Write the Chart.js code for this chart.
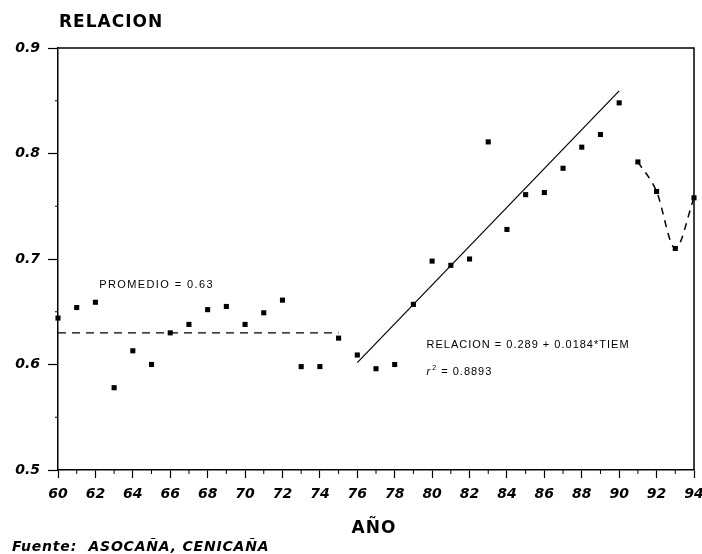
<!DOCTYPE html>
<html>
<head>
<meta charset="utf-8">
<title>RELACION</title>
<script src="https://cdn.jsdelivr.net/npm/chart.js@4.4.1/dist/chart.umd.min.js"></script>
<style>
  body { margin: 0; background: #fff; }
  canvas { display: block; }
</style>
</head>
<body>
<canvas id="myChart" width="702" height="554"></canvas>
<script>
// years (two digits) and the observed ratio for each one
var years = [60, 61, 62, 63, 64, 65, 66, 67, 68, 69, 70, 71, 72, 73, 74, 75, 76,
             77, 78, 79, 80, 81, 82, 83, 84, 85, 86, 87, 88, 89, 90, 91, 92, 93, 94];
var relacion = [0.644, 0.654, 0.659, 0.578, 0.613, 0.600, 0.630, 0.638, 0.652, 0.655,
                0.638, 0.649, 0.661, 0.598, 0.598, 0.625, 0.609, 0.596, 0.600, 0.657,
                0.698, 0.694, 0.700, 0.811, 0.728, 0.761, 0.763, 0.786, 0.806, 0.818,
                0.848, 0.792, 0.764, 0.710, 0.758];

// mean of the first period
var promedio = 0.63;
var promedioYears = [60, 75];

// linear fit: RELACION = 0.289 + 0.0184*TIEM, TIEM counted from 1959
var intercept = 0.289;
var slope = 0.0184;
var tiemBase = 59;
var fitYears = [76, 90];
var r2 = '0.8893';

// last years joined with a dashed curve
var curveYears = [91, 92, 93, 94];

var xTicks = [60, 62, 64, 66, 68, 70, 72, 74, 76, 78, 80, 82, 84, 86, 88, 90, 92, 94];
var yTicks = [0.5, 0.6, 0.7, 0.8, 0.9];

window.onload = function () {
    var points = years.map(function (y, i) { return { x: y, y: relacion[i] }; });
    var avgLine = promedioYears.map(function (y) { return { x: y, y: promedio }; });
    var fitLine = fitYears.map(function (y) { return { x: y, y: intercept + slope * (y - tiemBase) }; });
    var curve = curveYears.map(function (y) { return { x: y, y: relacion[years.indexOf(y)] }; });

    var tickFont = { family: 'DejaVu Sans', weight: 'bold', style: 'italic', size: 14 };

    // minor ticks, outer frame and all free text
    var extras = {
        id: 'extras',
        afterDraw: function (chart) {
            var ctx = chart.ctx;
            var a = chart.chartArea;
            var xs = chart.scales.x, ys = chart.scales.y;
            ctx.save();
            ctx.strokeStyle = '#000';
            ctx.fillStyle = '#000';

            // frame top and right
            ctx.lineWidth = 1.5;
            ctx.beginPath();
            ctx.moveTo(a.left, a.top);
            ctx.lineTo(a.right, a.top);
            ctx.lineTo(a.right, a.bottom);
            ctx.stroke();

            // minor ticks
            ctx.lineWidth = 1;
            ctx.beginPath();
            for (var yr = 61; yr < 94; yr += 2) {
                var px = xs.getPixelForValue(yr);
                ctx.moveTo(px, a.bottom);
                ctx.lineTo(px, a.bottom + 4);
            }
            [0.55, 0.65, 0.75, 0.85].forEach(function (v) {
                var py = ys.getPixelForValue(v);
                ctx.moveTo(a.left, py);
                ctx.lineTo(a.left - 3, py);
            });
            ctx.stroke();

            // headings
            ctx.textBaseline = 'alphabetic';
            ctx.font = 'bold 17px "DejaVu Sans"';
            ctx.letterSpacing = '1px';
            ctx.textAlign = 'left';
            ctx.fillText('RELACION', 59, 27);
            ctx.textAlign = 'center';
            ctx.fillText('AÑO', 374, 533);
            ctx.textAlign = 'left';
            ctx.font = 'italic bold 14px "DejaVu Sans"';
            ctx.letterSpacing = '0.8px';
            ctx.fillText('Fuente:  ASOCAÑA, CENICAÑA', 12, 551);

            // annotations
            ctx.font = '11px "Liberation Sans"';
            ctx.letterSpacing = '1.4px';
            ctx.fillText('PROMEDIO = ' + promedio.toFixed(2), xs.getPixelForValue(62.2), ys.getPixelForValue(0.6727));
            ctx.letterSpacing = '1px';
            var ex = xs.getPixelForValue(79.7);
            ctx.fillText('RELACION = ' + intercept + ' + ' + slope + '*TIEM', ex, ys.getPixelForValue(0.616));
            var ry = ys.getPixelForValue(0.590);
            ctx.font = 'italic 11px "Liberation Sans"';
            ctx.fillText('r', ex, ry);
            var w = ctx.measureText('r').width;
            ctx.font = '7px "Liberation Sans"';
            ctx.fillText('2', ex + w + 1, ry - 5);
            ctx.font = '11px "Liberation Sans"';
            ctx.fillText(' = ' + r2, ex + w + 6, ry);
            ctx.restore();
        }
    };

    var ctx = document.getElementById('myChart').getContext('2d');
    var myChart = new Chart(ctx, {
        type: 'scatter',
        data: {
            datasets: [{
                label: 'RELACION',
                data: points,
                pointStyle: 'rect',
                pointRadius: 3.6,
                backgroundColor: '#000',
                borderColor: '#000',
                borderWidth: 0,
                clip: false,
                order: 0
            }, {
                label: 'PROMEDIO',
                data: avgLine,
                showLine: true,
                borderColor: '#000',
                borderWidth: 1.2,
                borderDash: [8, 6],
                pointRadius: 0
            }, {
                label: 'Ajuste',
                data: fitLine,
                showLine: true,
                borderColor: '#000',
                borderWidth: 1.2,
                pointRadius: 0
            }, {
                label: '91-94',
                data: curve,
                showLine: true,
                cubicInterpolationMode: 'monotone',
                borderColor: '#000',
                borderWidth: 1.5,
                borderDash: [7, 6],
                pointRadius: 0,
                clip: false
            }]
        },
        options: {
            responsive: false,
            animation: false,
            layout: { padding: { left: 0, right: 8, top: 48, bottom: 0 } },
            plugins: {
                legend: { display: false },
                tooltip: { enabled: false }
            },
            scales: {
                x: {
                    type: 'linear',
                    min: 60,
                    max: 94,
                    afterBuildTicks: function (s) { s.ticks = xTicks.map(function (v) { return { value: v }; }); },
                    afterFit: function (s) { s.height = 84; s.paddingLeft = 0; s.paddingRight = 0; },
                    ticks: { color: '#000', font: tickFont, padding: 8, autoSkip: false, maxRotation: 0 },
                    grid: { drawOnChartArea: false, color: '#000', tickLength: 8, tickWidth: 1.2 },
                    border: { color: '#000', width: 1.5 }
                },
                y: {
                    min: 0.5,
                    max: 0.9,
                    afterBuildTicks: function (s) { s.ticks = yTicks.map(function (v) { return { value: v }; }); },
                    afterFit: function (s) { s.width = 58; s.paddingTop = 0; s.paddingBottom = 0; },
                    ticks: {
                        color: '#000',
                        font: tickFont,
                        padding: 8,
                        callback: function (v) { return v.toFixed(1); }
                    },
                    grid: { drawOnChartArea: false, color: '#000', tickLength: 10, tickWidth: 1.2 },
                    border: { color: '#000', width: 1.5 }
                }
            }
        },
        plugins: [extras]
    });
};
</script>
</body>
</html>
